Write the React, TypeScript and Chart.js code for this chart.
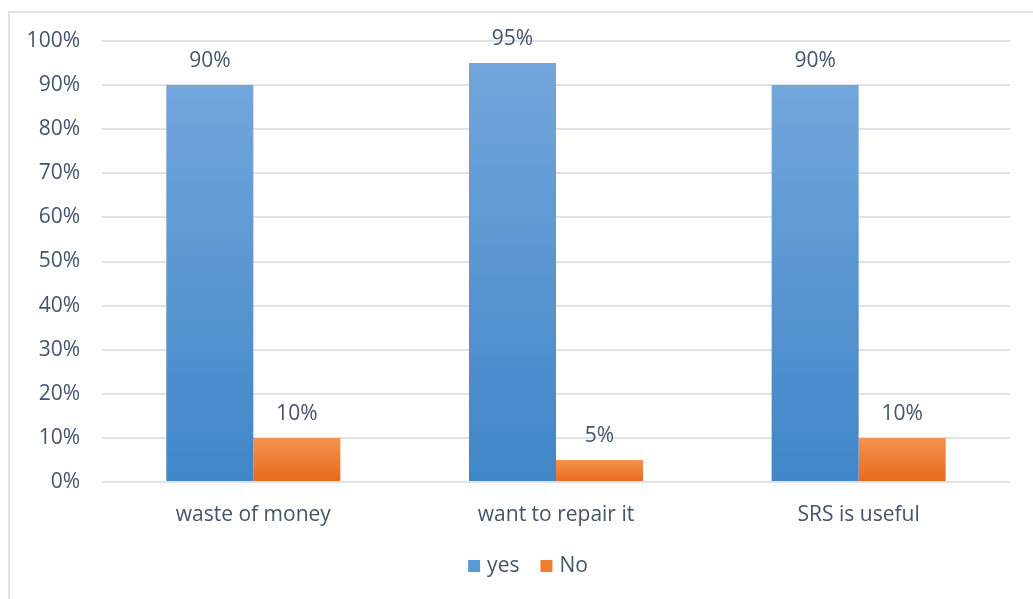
import React, { useEffect, useRef } from "react";
import { Chart, registerables } from "chart.js";

Chart.register(...registerables);

const categories = ["waste of money", "want to repair it", "SRS is useful"];
const yesValues = [90, 95, 90];
const noValues = [10, 5, 10];
const seriesNames = ["yes", "No"];
const seriesColors = ["#5b9bd5", "#ed7d31"];

const FONT = "'Open Sans', sans-serif";
const TEXT = "#44546a";
const FS = 21;

function gradientFill(top: string, bottom: string, solid: string) {
  return (ctx: any) => {
    const chart = ctx.chart;
    const y = chart.scales && chart.scales.y;
    if (ctx.raw === undefined || !y || !chart.chartArea) return solid;
    const t = y.getPixelForValue(ctx.raw);
    const b = y.getPixelForValue(0);
    if (!isFinite(t) || !isFinite(b) || b - t < 1) return solid;
    const g = chart.ctx.createLinearGradient(0, t, 0, b);
    g.addColorStop(0, top);
    g.addColorStop(1, bottom);
    return g;
  };
}

const labelPlugin = {
  id: "valueLabels",
  afterDatasetsDraw(chart: any) {
    const ctx = chart.ctx;
    ctx.save();
    ctx.font = `${FS}px ${FONT}`;
    ctx.fillStyle = TEXT;
    ctx.textAlign = "center";
    ctx.textBaseline = "middle";
    chart.data.datasets.forEach((ds: any, di: number) => {
      const meta = chart.getDatasetMeta(di);
      meta.data.forEach((el: any, i: number) => {
        ctx.fillText(ds.data[i] + "%", el.x, el.y - 24);
      });
    });
    ctx.restore();
  },
};

const legendPlugin = {
  id: "customLegend",
  afterDraw(chart: any) {
    const ctx = chart.ctx;
    ctx.save();
    ctx.font = `${FS}px ${FONT}`;
    ctx.textBaseline = "middle";
    ctx.textAlign = "left";
    const box = 12, gapText = 7, gapItem = 21;
    const widths = seriesNames.map((n) => box + gapText + ctx.measureText(n).width);
    const total = widths.reduce((a, b) => a + b, 0) + gapItem * (seriesNames.length - 1);
    const cx = 528, cy = 566;
    let x = cx - total / 2;
    seriesNames.forEach((n, i) => {
      ctx.fillStyle = seriesColors[i];
      ctx.fillRect(x, cy - box / 2, box, box);
      ctx.fillStyle = TEXT;
      ctx.fillText(n, x + box + gapText, cy);
      x += widths[i] + gapItem;
    });
    ctx.restore();
  },
};

export default function App() {
  const ref = useRef<HTMLCanvasElement>(null);
  useEffect(() => {
    if (!ref.current) return;
    const chart = new Chart(ref.current, {
      type: "bar",
      data: {
        labels: categories,
        datasets: [
          {
            label: seriesNames[0],
            data: yesValues,
            backgroundColor: gradientFill("#72a6dc", "#3f86c8", seriesColors[0]),
            borderWidth: 0,
          },
          {
            label: seriesNames[1],
            data: noValues,
            backgroundColor: gradientFill("#f4924f", "#e86a1a", seriesColors[1]),
            borderWidth: 0,
          },
        ],
      },
      options: {
        animation: false,
        responsive: false,
        maintainAspectRatio: false,
        layout: { padding: { left: 0, right: 23, top: 41, bottom: 53 } },
        datasets: { bar: { categoryPercentage: 0.575, barPercentage: 1 } },
        scales: {
          x: {
            grid: { display: false, drawTicks: false },
            border: { display: false },
            ticks: { color: TEXT, font: { family: FONT, size: FS }, padding: 20 },
            afterFit: (s: any) => { s.height = 64; },
          },
          y: {
            min: 0,
            max: 100,
            ticks: {
              stepSize: 10,
              color: TEXT,
              font: { family: FONT, size: FS },
              padding: 22,
              callback: (v: any) => v + "%",
            },
            grid: { color: "#dfe2e8", lineWidth: 2, drawTicks: false },
            border: { display: false },
            afterFit: (s: any) => { s.width = 102; },
          },
        },
        plugins: {
          legend: { display: false },
          tooltip: { enabled: false },
        },
      },
      plugins: [labelPlugin, legendPlugin],
    });
    return () => chart.destroy();
  }, []);

  return (
    <div style={{ position: "absolute", left: 0, top: 0, width: 1033, height: 599, overflow: "hidden", background: "#fff" }}>
      <div style={{ position: "absolute", left: 8, top: 11, width: 1040, height: 600, border: "2px solid #e0e4ea", boxSizing: "border-box" }} />
      <canvas ref={ref} width={1033} height={599} style={{ position: "absolute", left: 0, top: 0 }} />
    </div>
  );
}
